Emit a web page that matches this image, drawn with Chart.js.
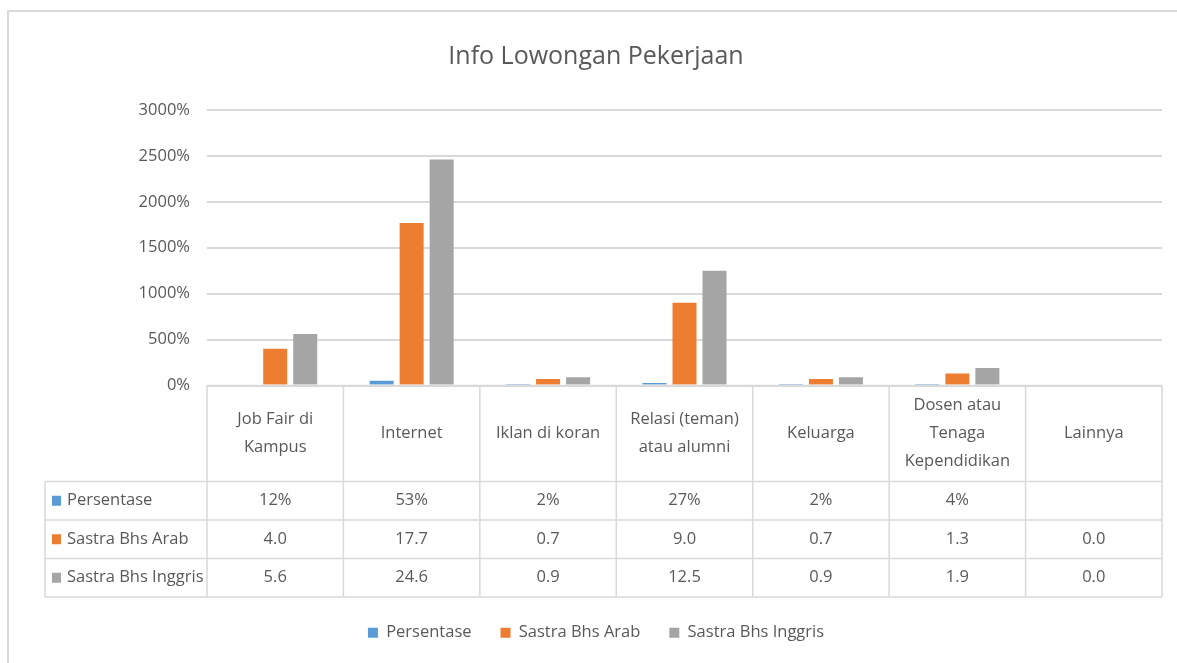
<!DOCTYPE html>
<html>
<head>
<meta charset="utf-8">
<title>Info Lowongan Pekerjaan</title>
<script src="https://cdn.jsdelivr.net/npm/chart.js@4.4.1/dist/chart.umd.min.js"></script>
<style>
  html, body { margin: 0; padding: 0; background: #fff; }
  #wrap { position: relative; width: 1177px; height: 663px; }
</style>
</head>
<body>
<div id="wrap"><canvas id="chart" width="1177" height="663"></canvas></div>
<script>
// data
const categories = [
    ['Job Fair di', 'Kampus'],
    ['Internet'],
    ['Iklan di koran'],
    ['Relasi (teman)', 'atau alumni'],
    ['Keluarga'],
    ['Dosen atau', 'Tenaga', 'Kependidikan'],
    ['Lainnya']
];
const persentase = [0.12, 0.53, 0.02, 0.27, 0.02, 0.04, null];
const sastraArab = [4.0, 17.7, 0.7, 9.0, 0.7, 1.3, 0.0];
const sastraInggris = [5.6, 24.6, 0.9, 12.5, 0.9, 1.9, 0.0];
const yTicks = [0, 5, 10, 15, 20, 25, 30];

const FONT = '"Open Sans", sans-serif';
const TEXT = '#595959';
const LINE = '#d9d9d9';

const seriesFormat = [
    v => v == null ? '' : Math.round(v * 100) + '%',
    v => v == null ? '' : v.toFixed(1),
    v => v == null ? '' : v.toFixed(1)
];

// draws outer frame + data table under the plot
const tablePlugin = {
    id: 'dataTable',
    beforeDraw(chart) {
        const ctx = chart.ctx;
        ctx.save();
        ctx.fillStyle = '#fff';
        ctx.fillRect(0, 0, chart.width, chart.height);
        ctx.strokeStyle = LINE;
        ctx.lineWidth = 2;
        ctx.strokeRect(8, 11, chart.width + 20, chart.height + 20);
        ctx.restore();
    },
    afterDraw(chart) {
        const ctx = chart.ctx;
        const xs = chart.scales.x;
        const area = chart.chartArea;
        const n = categories.length;
        const step = (area.right - area.left) / n;
        const top = area.bottom;
        const headH = 96;
        const rowH = 38.5;
        const left = 45;
        const bottom = top + headH + rowH * 3;

        ctx.save();
        ctx.strokeStyle = LINE;
        ctx.lineWidth = 1.5;
        ctx.beginPath();
        ctx.moveTo(area.left, top); ctx.lineTo(area.right, top);
        for (let r = 0; r <= 3; r++) {
            const y = top + headH + rowH * r;
            ctx.moveTo(left, y); ctx.lineTo(area.right, y);
        }
        for (let i = 0; i <= n; i++) {
            const x = area.left + step * i;
            ctx.moveTo(x, top); ctx.lineTo(x, bottom);
        }
        ctx.moveTo(left, top + headH); ctx.lineTo(left, bottom);
        ctx.stroke();

        ctx.fillStyle = TEXT;
        ctx.font = '16.5px ' + FONT;
        ctx.textAlign = 'center';
        ctx.textBaseline = 'middle';
        const lh = 28;
        categories.forEach((lines, i) => {
            const cx = xs.getPixelForValue(i);
            const cy = top + headH / 2;
            lines.forEach((t, k) => {
                ctx.fillText(t, cx, cy + (k - (lines.length - 1) / 2) * lh);
            });
        });

        chart.data.datasets.forEach((ds, r) => {
            const cy = top + headH + rowH * r + rowH / 2;
            ctx.fillStyle = ds.backgroundColor;
            ctx.fillRect(52, cy - 5, 9, 10);
            ctx.fillStyle = TEXT;
            ctx.textAlign = 'left';
            ctx.fillText(ds.label, 67, cy);
            ctx.textAlign = 'center';
            ds.data.forEach((v, i) => {
                ctx.fillText(seriesFormat[r](v), xs.getPixelForValue(i), cy);
            });
        });
        ctx.restore();
    }
};

new Chart(document.getElementById('chart'), {
    type: 'bar',
    data: {
        labels: categories,
        datasets: [
            { label: 'Persentase', data: persentase, backgroundColor: '#5B9BD5' },
            { label: 'Sastra Bhs Arab', data: sastraArab, backgroundColor: '#ED7D31' },
            { label: 'Sastra Bhs Inggris', data: sastraInggris, backgroundColor: '#A5A5A5' }
        ]
    },
    options: {
        responsive: false,
        animation: false,
        categoryPercentage: 0.66,
        barPercentage: 0.8,
        layout: { padding: { top: 11, right: 15, bottom: 12, left: 30 } },
        plugins: {
            title: {
                display: true,
                text: 'Info Lowongan Pekerjaan',
                color: TEXT,
                font: { family: FONT, size: 25, weight: 'normal' },
                padding: { top: 31, bottom: 38 }
            },
            legend: {
                position: 'bottom',
                labels: {
                    color: TEXT,
                    font: { family: FONT, size: 16.5 },
                    boxWidth: 10,
                    boxHeight: 10,
                    padding: 29
                }
            },
            tooltip: { enabled: false }
        },
        scales: {
            x: {
                ticks: { display: false },
                grid: { display: false },
                border: { display: false },
                afterFit(scale) { scale.height = 210; }
            },
            y: {
                min: 0,
                max: 30,
                afterBuildTicks(scale) { scale.ticks = yTicks.map(v => ({ value: v })); },
                afterFit(scale) { scale.width = 177; },
                ticks: {
                    color: TEXT,
                    padding: 17,
                    font: { family: FONT, size: 16.5 },
                    callback: v => Math.round(v * 100) + '%'
                },
                grid: { color: LINE, lineWidth: 2, drawTicks: false },
                border: { display: false }
            }
        }
    },
    plugins: [tablePlugin]
});
</script>
</body>
</html>
